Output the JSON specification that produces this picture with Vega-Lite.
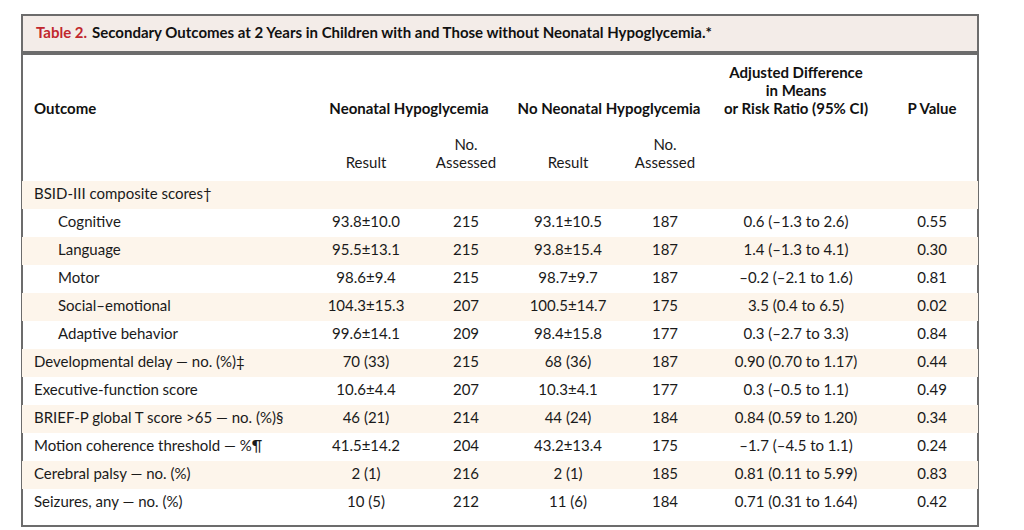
{
  "$schema": "https://vega.github.io/schema/vega-lite/v6.json",
  "background": "white",
  "padding": {"left": 21, "top": 14, "right": 47, "bottom": 7},
  "spacing": 0,
  "config": {
    "view": {"stroke": "#6c6c6c", "strokeWidth": 2},
    "font": "Lato",
    "text": {"font": "Lato", "fontSize": 15, "color": "#1a1a1a", "baseline": "middle", "dy": -1}
  },
  "datasets": {
    "body": [
      {"outcome": "BSID-III composite scores†", "group": null},
      {"outcome": "Cognitive", "group": "BSID-III", "res1": "93.8±10.0", "n1": "215", "res2": "93.1±10.5", "n2": "187", "diff": "0.6 (–1.3 to 2.6)", "p": "0.55"},
      {"outcome": "Language", "group": "BSID-III", "res1": "95.5±13.1", "n1": "215", "res2": "93.8±15.4", "n2": "187", "diff": "1.4 (–1.3 to 4.1)", "p": "0.30"},
      {"outcome": "Motor", "group": "BSID-III", "res1": "98.6±9.4", "n1": "215", "res2": "98.7±9.7", "n2": "187", "diff": "–0.2 (–2.1 to 1.6)", "p": "0.81"},
      {"outcome": "Social–emotional", "group": "BSID-III", "res1": "104.3±15.3", "n1": "207", "res2": "100.5±14.7", "n2": "175", "diff": "3.5 (0.4 to 6.5)", "p": "0.02"},
      {"outcome": "Adaptive behavior", "group": "BSID-III", "res1": "99.6±14.1", "n1": "209", "res2": "98.4±15.8", "n2": "177", "diff": "0.3 (–2.7 to 3.3)", "p": "0.84"},
      {"outcome": "Developmental delay — no. (%)‡", "group": null, "res1": "70 (33)", "n1": "215", "res2": "68 (36)", "n2": "187", "diff": "0.90 (0.70 to 1.17)", "p": "0.44"},
      {"outcome": "Executive-function score", "group": null, "res1": "10.6±4.4", "n1": "207", "res2": "10.3±4.1", "n2": "177", "diff": "0.3 (–0.5 to 1.1)", "p": "0.49"},
      {"outcome": "BRIEF-P global T score >65 — no. (%)§", "group": null, "res1": "46 (21)", "n1": "214", "res2": "44 (24)", "n2": "184", "diff": "0.84 (0.59 to 1.20)", "p": "0.34"},
      {"outcome": "Motion coherence threshold — %¶", "group": null, "res1": "41.5±14.2", "n1": "204", "res2": "43.2±13.4", "n2": "175", "diff": "–1.7 (–4.5 to 1.1)", "p": "0.24"},
      {"outcome": "Cerebral palsy — no. (%)", "group": null, "res1": "2 (1)", "n1": "216", "res2": "2 (1)", "n2": "185", "diff": "0.81 (0.11 to 5.99)", "p": "0.83"},
      {"outcome": "Seizures, any — no. (%)", "group": null, "res1": "10 (5)", "n1": "212", "res2": "11 (6)", "n2": "184", "diff": "0.71 (0.31 to 1.64)", "p": "0.42"}
    ],
    "header": [
      {"col": "outcome", "line": "l3", "text": "Outcome", "kind": "left"},
      {"col": "g1", "line": "l3", "text": "Neonatal Hypoglycemia", "kind": "bold"},
      {"col": "g2", "line": "l3", "text": "No Neonatal Hypoglycemia", "kind": "bold"},
      {"col": "diff", "line": "l1", "text": "Adjusted Difference", "kind": "bold"},
      {"col": "diff", "line": "l2", "text": "in Means", "kind": "bold"},
      {"col": "diff", "line": "l3", "text": "or Risk Ratio (95% CI)", "kind": "bold"},
      {"col": "p", "line": "l3", "text": "P Value", "kind": "bold"},
      {"col": "res1", "line": "l6", "text": "Result", "kind": "sub"},
      {"col": "n1", "line": "l5", "text": "No.", "kind": "sub"},
      {"col": "n1", "line": "l6", "text": "Assessed", "kind": "sub"},
      {"col": "res2", "line": "l6", "text": "Result", "kind": "sub"},
      {"col": "n2", "line": "l5", "text": "No.", "kind": "sub"},
      {"col": "n2", "line": "l6", "text": "Assessed", "kind": "sub"}
    ],
    "title": [
      {"col": "outcome", "label": "Table 2.", "rest": "Secondary Outcomes at 2 Years in Children with and Those without Neonatal Hypoglycemia.*"}
    ]
  },
  "vconcat": [
    {
      "width": 956,
      "height": 37,
      "view": {"fill": "#f3ece8", "stroke": "#6c6c6c", "strokeWidth": 2},
      "data": {"name": "title"},
      "transform": [
        {"calculate": "indexof(['outcome','res1','g1','n1','res2','g2','n2','diff','p'], datum.col)", "as": "idx"}
      ],
      "layer": [
        {
          "mark": {"type": "text", "align": "left", "fontWeight": "bold", "color": "#c1272d", "dx": 2},
          "encoding": {
            "x": {"field": "idx", "type": "quantitative", "axis": null, "scale": {"domain": [0, 1, 2, 3, 4, 5, 6, 7, 8], "range": [12, 344, 387, 444, 546, 587, 643, 774, 910]}},
            "text": {"field": "label"}
          }
        },
        {
          "mark": {"type": "text", "align": "left", "fontWeight": "bold", "color": "#111111", "dx": 58},
          "encoding": {
            "x": {"field": "idx", "type": "quantitative", "axis": null, "scale": {"domain": [0, 1, 2, 3, 4, 5, 6, 7, 8], "range": [12, 344, 387, 444, 546, 587, 643, 774, 910]}},
            "text": {"field": "rest"}
          }
        }
      ]
    },
    {
      "width": 956,
      "height": 472,
      "view": {"fill": "white", "stroke": "#6c6c6c", "strokeWidth": 2},
      "resolve": {"scale": {"y": "independent"}},
      "layer": [
        {
          "data": {"name": "body"},
          "transform": [
            {"window": [{"op": "row_number", "as": "rn"}]},
            {"filter": "datum.rn % 2 == 1"}
          ],
          "mark": {"type": "rect", "color": "#fdf5eb"},
          "encoding": {
            "y": {"field": "outcome", "type": "nominal", "axis": null, "sort": null,
                  "scale": {"domain": ["BSID-III composite scores†", "Cognitive", "Language", "Motor", "Social–emotional", "Adaptive behavior", "Developmental delay — no. (%)‡", "Executive-function score", "BRIEF-P global T score >65 — no. (%)§", "Motion coherence threshold — %¶", "Cerebral palsy — no. (%)", "Seizures, any — no. (%)"], "range": [127, 463], "paddingInner": 0, "paddingOuter": 0}}
          }
        },
        {
          "data": {"name": "body"},
          "transform": [
            {"calculate": "0", "as": "idx"}
          ],
          "layer": [
            {
              "transform": [{"filter": "datum.group == null"}],
              "mark": {"type": "text", "align": "left"},
              "encoding": {
                "x": {"field": "idx", "type": "quantitative", "axis": null, "scale": {"domain": [0, 1, 2, 3, 4, 5, 6, 7, 8], "range": [12, 344, 387, 444, 546, 587, 643, 774, 910]}},
                "y": {"field": "outcome", "type": "nominal", "axis": null, "sort": null,
                      "scale": {"domain": ["BSID-III composite scores†", "Cognitive", "Language", "Motor", "Social–emotional", "Adaptive behavior", "Developmental delay — no. (%)‡", "Executive-function score", "BRIEF-P global T score >65 — no. (%)§", "Motion coherence threshold — %¶", "Cerebral palsy — no. (%)", "Seizures, any — no. (%)"], "range": [127, 463], "paddingInner": 0, "paddingOuter": 0}},
                "text": {"field": "outcome"}
              }
            },
            {
              "transform": [{"filter": "datum.group != null"}],
              "mark": {"type": "text", "align": "left", "dx": 24},
              "encoding": {
                "x": {"field": "idx", "type": "quantitative", "axis": null, "scale": {"domain": [0, 1, 2, 3, 4, 5, 6, 7, 8], "range": [12, 344, 387, 444, 546, 587, 643, 774, 910]}},
                "y": {"field": "outcome", "type": "nominal", "axis": null, "sort": null,
                      "scale": {"domain": ["BSID-III composite scores†", "Cognitive", "Language", "Motor", "Social–emotional", "Adaptive behavior", "Developmental delay — no. (%)‡", "Executive-function score", "BRIEF-P global T score >65 — no. (%)§", "Motion coherence threshold — %¶", "Cerebral palsy — no. (%)", "Seizures, any — no. (%)"], "range": [127, 463], "paddingInner": 0, "paddingOuter": 0}},
                "text": {"field": "outcome"}
              }
            }
          ]
        },
        {
          "data": {"name": "body"},
          "transform": [
            {"fold": ["res1", "n1", "res2", "n2", "diff", "p"], "as": ["col", "val"]},
            {"filter": "isValid(datum.val)"},
            {"calculate": "indexof(['outcome','res1','g1','n1','res2','g2','n2','diff','p'], datum.col)", "as": "idx"}
          ],
          "mark": {"type": "text", "align": "center"},
          "encoding": {
            "x": {"field": "idx", "type": "quantitative", "axis": null, "scale": {"domain": [0, 1, 2, 3, 4, 5, 6, 7, 8], "range": [12, 344, 387, 444, 546, 587, 643, 774, 910]}},
            "y": {"field": "outcome", "type": "nominal", "axis": null, "sort": null,
                  "scale": {"domain": ["BSID-III composite scores†", "Cognitive", "Language", "Motor", "Social–emotional", "Adaptive behavior", "Developmental delay — no. (%)‡", "Executive-function score", "BRIEF-P global T score >65 — no. (%)§", "Motion coherence threshold — %¶", "Cerebral palsy — no. (%)", "Seizures, any — no. (%)"], "range": [127, 463], "paddingInner": 0, "paddingOuter": 0}},
            "text": {"field": "val"}
          }
        },
        {
          "data": {"name": "header"},
          "transform": [
            {"calculate": "indexof(['outcome','res1','g1','n1','res2','g2','n2','diff','p'], datum.col)", "as": "idx"}
          ],
          "encoding": {
            "x": {"field": "idx", "type": "quantitative", "axis": null, "scale": {"domain": [0, 1, 2, 3, 4, 5, 6, 7, 8], "range": [12, 344, 387, 444, 546, 587, 643, 774, 910]}},
            "y": {"field": "line", "type": "nominal", "axis": null, "scale": {"type": "point", "domain": ["l1", "l2", "l3", "l4", "l5", "l6"], "range": [20, 110], "padding": 0}},
            "text": {"field": "text"}
          },
          "layer": [
            {"transform": [{"filter": "datum.kind == 'left'"}], "mark": {"type": "text", "align": "left", "fontWeight": "bold", "color": "#111111"}},
            {"transform": [{"filter": "datum.kind == 'bold'"}], "mark": {"type": "text", "align": "center", "fontWeight": "bold", "color": "#111111"}},
            {"transform": [{"filter": "datum.kind == 'sub'"}], "mark": {"type": "text", "align": "center"}}
          ]
        }
      ]
    }
  ]
}
